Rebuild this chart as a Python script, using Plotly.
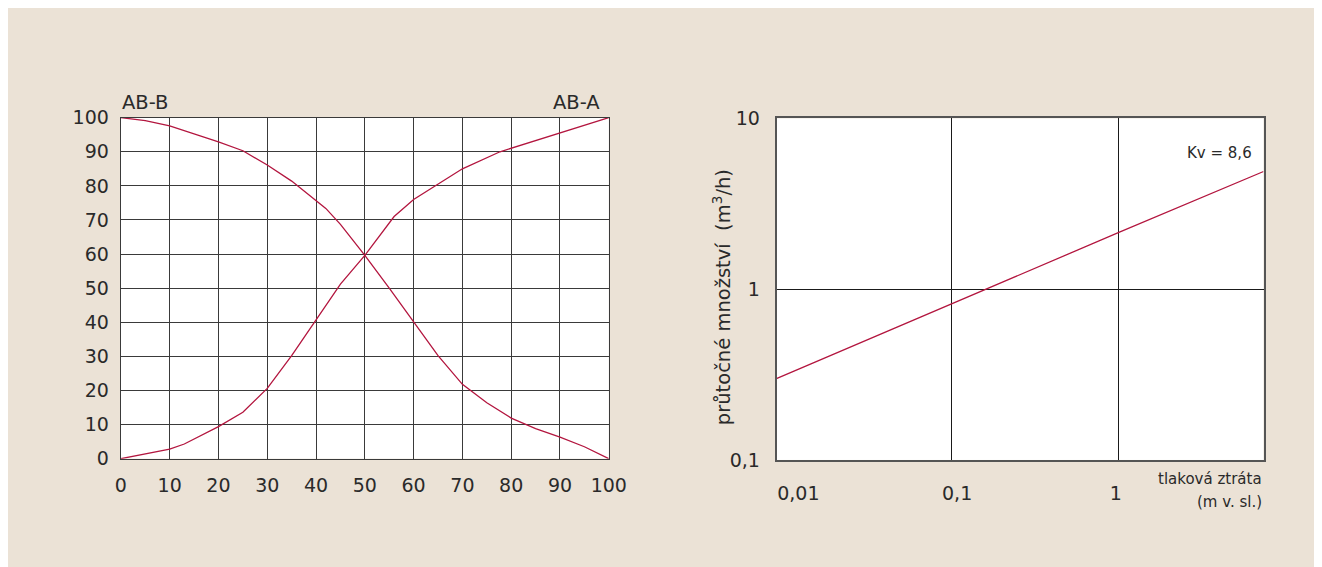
import plotly.graph_objects as go

# ---- data: left chart (valve characteristic, %) ----
ab_b_x = [0, 5, 10, 15, 20, 25, 30, 35, 40, 42, 45, 50, 55, 60, 65, 70, 75, 80, 85, 90, 95, 100]
ab_b_y = [100, 99.1, 97.6, 95.3, 92.9, 90.3, 86.1, 81.4, 75.8, 73.4, 68.7, 59.6, 50.0, 40.1, 30.2, 21.8, 16.4, 11.9, 8.8, 6.3, 3.5, 0]

ab_a_x = [0, 5, 10, 13, 20, 25, 30, 35, 40, 45, 50, 56, 60, 65, 70, 77.7, 85, 90, 100]
ab_a_y = [0, 1.4, 2.8, 4.3, 9.4, 13.6, 20.6, 30.2, 40.8, 51.2, 59.6, 71.0, 76.0, 80.6, 85.0, 90.0, 93.3, 95.5, 100]

left_ticks = [0, 10, 20, 30, 40, 50, 60, 70, 80, 90, 100]

# ---- data: right chart (flow vs. pressure loss, log-log) ----
dp_x = [0.0091, 0.1, 1, 7.28]
flow_y = [0.299, 0.818, 2.15, 4.89]
right_xticks = [0.01, 0.1, 1]
right_xtext = ["\u00a0\u00a0\u00a0\u00a0\u00a00,01", "\u00a0\u00a00,1", "1\u00a0"]
right_xgrid = [0.1, 1]
right_yticks = [0.1, 1, 10]
right_ytext = ["0,1", "1", "10"]

OFF = 8  # page body margin offset of the figure
W, H = 1322 - OFF, 567 - OFF
BEIGE = "#ebe2d6"
RED = "#b3163f"
FONT = "DejaVu Sans"
TXT = "#2a2a2a"

def px_x(p):
    return (p - OFF) / W

def px_y(p):
    return 1 - (p - OFF) / H

fig = go.Figure()

fig.add_trace(go.Scatter(x=ab_b_x, y=ab_b_y, mode="lines", line=dict(color=RED, width=1.3),
                         xaxis="x", yaxis="y", showlegend=False, hoverinfo="skip"))
fig.add_trace(go.Scatter(x=ab_a_x, y=ab_a_y, mode="lines", line=dict(color=RED, width=1.3),
                         xaxis="x", yaxis="y", showlegend=False, hoverinfo="skip"))
# invisible carrier trace so the grid-only overlay axis gets drawn
fig.add_trace(go.Scatter(x=dp_x, y=flow_y, mode="lines", line=dict(color="rgba(0,0,0,0)", width=0),
                         xaxis="x3", yaxis="y2", showlegend=False, hoverinfo="skip"))
fig.add_trace(go.Scatter(x=dp_x, y=flow_y, mode="lines", line=dict(color=RED, width=1.3),
                         xaxis="x2", yaxis="y2", showlegend=False, hoverinfo="skip"))

tickfont = dict(family=FONT, size=19, color=TXT)

fig.update_layout(
    width=W, height=H,
    margin=dict(l=0, r=0, t=0, b=0),
    paper_bgcolor=BEIGE,
    plot_bgcolor="white",
    font=dict(family=FONT, color=TXT),
    xaxis=dict(domain=[px_x(95), px_x(601)], range=[0, 100], tickvals=left_ticks,
               showgrid=True, gridcolor="#3a3a3a", gridwidth=1.4, zeroline=False,
               showline=True, linecolor="#3a3a3a", linewidth=1.4, mirror=True,
               tickfont=tickfont, ticks="", ticklabelstandoff=9, anchor="y", fixedrange=True),
    yaxis=dict(domain=[px_y(465.7), px_y(110.7)], range=[0, 100], tickvals=left_ticks,
               showgrid=True, gridcolor="#3a3a3a", gridwidth=1.4, zeroline=False,
               showline=True, linecolor="#3a3a3a", linewidth=1.4, mirror=True,
               tickfont=tickfont, ticks="", ticklabelstandoff=7, anchor="x", fixedrange=True),
    xaxis2=dict(domain=[px_x(775), px_x(1280)], type="log", range=[-2.04, 0.862],
                tickvals=right_xticks, ticktext=right_xtext,
                showgrid=False, zeroline=False,
                showline=True, linecolor="#555555", linewidth=1.6, mirror=True,
                tickfont=tickfont, ticks="", ticklabelstandoff=15, anchor="y2", fixedrange=True),
    xaxis3=dict(domain=[px_x(775), px_x(1280)], type="log", range=[-2.04, 0.862],
                tickvals=right_xgrid, showticklabels=False, overlaying="x2",
                showgrid=True, gridcolor="#1a1a1a", gridwidth=1.2, zeroline=False,
                showline=False, ticks="", anchor="y2", fixedrange=True),
    yaxis2=dict(domain=[px_y(467), px_y(111.5)], type="log", range=[-1, 1],
                tickvals=right_yticks, ticktext=right_ytext,
                showgrid=True, gridcolor="#1a1a1a", gridwidth=1.2, zeroline=False,
                showline=True, linecolor="#555555", linewidth=1.6, mirror=True,
                tickfont=tickfont, ticks="", ticklabelstandoff=11, anchor="x2", fixedrange=True),
    annotations=[
        dict(text="AB-B", xref="paper", yref="paper", x=px_x(94), y=px_y(95), xanchor="left",
             yanchor="middle", showarrow=False, font=dict(family=FONT, size=19.5, color=TXT)),
        dict(text="AB-A", xref="paper", yref="paper", x=px_x(594), y=px_y(95), xanchor="right",
             yanchor="middle", showarrow=False, font=dict(family=FONT, size=19.5, color=TXT)),
        dict(text="Kv = 8,6", xref="paper", yref="paper", x=px_x(1270), y=px_y(147.5), xanchor="right",
             yanchor="middle", showarrow=False, font=dict(family=FONT, size=15, color=TXT)),
        dict(text="tlaková ztráta", xref="paper", yref="paper", x=px_x(1280), y=px_y(487),
             xanchor="right", yanchor="middle", showarrow=False,
             font=dict(family=FONT, size=15, color=TXT)),
        dict(text="(m v. sl.)", xref="paper", yref="paper", x=px_x(1280), y=px_y(511),
             xanchor="right", yanchor="middle", showarrow=False,
             font=dict(family=FONT, size=15, color=TXT)),
        dict(text="průtočné množství  (m<sup>3</sup>/h)", xref="paper", yref="paper", x=px_x(718),
             y=px_y(298), xanchor="center", yanchor="middle", textangle=-90, showarrow=False,
             font=dict(family=FONT, size=19.5, color=TXT)),
    ],
)

fig.write_html("out.html")
